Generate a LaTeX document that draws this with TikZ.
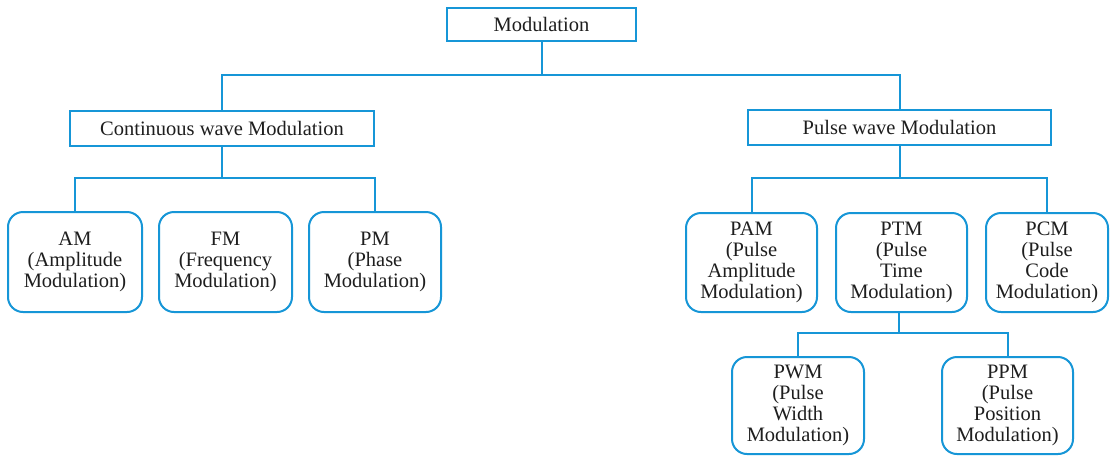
\documentclass[tikz,border=0pt]{standalone}
\usepackage{fontspec}
\setmainfont{Liberation Serif}
\definecolor{linkblue}{RGB}{22,150,215}
\definecolor{inktext}{RGB}{30,30,30}
\begin{document}
\begin{tikzpicture}[x=1pt,y=-1pt,
  every node/.style={text=inktext,font=\fontsize{20.5}{21}\selectfont,align=center,inner sep=0pt},
  headbox/.style={draw=linkblue,line width=2pt,rectangle},
  leafbox/.style={draw=linkblue,line width=2pt,rounded corners=15pt},
  link/.style={draw=linkblue,line width=2pt}]
\useasboundingbox (0,0) rectangle (1110,456);
\fill[white] (0,0) rectangle (1110,456);

% top level
\node[headbox,minimum width=189pt,minimum height=33pt] (mod) at (541.5,24.5) {Modulation};

% second level
\node[headbox,minimum width=304pt,minimum height=35pt] (cw) at (222,128.5) {Continuous wave Modulation};
\node[headbox,minimum width=303pt,minimum height=35pt] (pw) at (899.5,127.5) {Pulse wave Modulation};

% continuous wave family
\node[leafbox,minimum width=134pt,minimum height=100pt] (am) at (75,262) {AM\\(Amplitude\\Modulation)};
\node[leafbox,minimum width=133pt,minimum height=100pt] (fm) at (225.5,262) {FM\\(Frequency\\Modulation)};
\node[leafbox,minimum width=132pt,minimum height=100pt] (pm) at (375,262) {PM\\(Phase\\Modulation)};

% pulse family
\node[leafbox,minimum width=131pt,minimum height=99pt] (pam) at (751.5,262.5) {PAM\\(Pulse\\Amplitude\\Modulation)};
\node[leafbox,minimum width=131pt,minimum height=99pt] (ptm) at (901.5,262.5) {PTM\\(Pulse\\Time\\Modulation)};
\node[leafbox,minimum width=122pt,minimum height=99pt] (pcm) at (1047,262.5) {PCM\\(Pulse\\Code\\Modulation)};

% pulse time family
\node[leafbox,minimum width=132pt,minimum height=97pt] (pwm) at (798,405.5) {PWM\\(Pulse\\Width\\Modulation)};
\node[leafbox,minimum width=131pt,minimum height=97pt] (ppm) at (1007.5,405.5) {PPM\\(Pulse\\Position\\Modulation)};

% branching points
\coordinate (j1) at (541.5,75);
\coordinate (j2) at (222,178);
\coordinate (j3) at (899.5,178);
\coordinate (j4) at (899,333);

% connectors
\draw[link] (mod.south) -- (j1);
\draw[link] (cw.north) |- (j1) -| (pw.north);
\draw[link] (cw.south) -- (j2);
\draw[link] (am.north) |- (j2) -| (pm.north);
\draw[link] (pw.south) -- (j3);
\draw[link] (pam.north) |- (j3) -| (pcm.north);
\draw[link] (ptm.south -| j4) -- (j4);
\draw[link] (pwm.north) |- (j4) -| (ppm.north);
\end{tikzpicture}
\end{document}
